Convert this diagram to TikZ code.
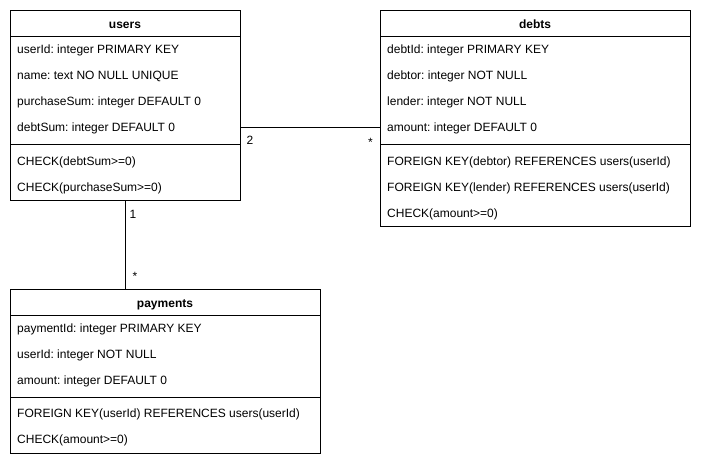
\documentclass[tikz,border=0pt]{standalone}
\usepackage{fontspec}
\setmainfont{Liberation Sans}
\begin{document}
\frenchspacing
\begin{tikzpicture}[x=1pt,y=-1pt,
  tbl/.style={draw,line width=1pt,rectangle,inner sep=0pt,anchor=north west},
  ttl/.style={font=\fontsize{12}{14}\selectfont\bfseries,anchor=base,inner sep=0pt},
  fld/.style={font=\fontsize{12}{14}\selectfont,anchor=base west,inner sep=0pt},
  mult/.style={font=\fontsize{12}{14}\selectfont,anchor=base,inner sep=0pt},
  sep/.style={line width=1pt}]
\useasboundingbox (0,0) rectangle (701,467);
% users
\node[tbl,minimum width=230pt,minimum height=190pt] (users) at (10,10) {};
\draw[sep] (10,36) -- (240,36);
\draw[sep] (10,144) -- (240,144);
\node[ttl] (usersT) at (125,28) {users};
\node[fld] (u1) at (17,53) {userId: integer PRIMARY KEY};
\node[fld] (u2) at (17,79) {name: text NO NULL UNIQUE};
\node[fld] (u3) at (17,105) {purchaseSum: integer DEFAULT 0};
\node[fld] (u4) at (17,131) {debtSum: integer DEFAULT 0};
\node[fld] (u5) at (17,165) {CHECK(debtSum>=0)};
\node[fld] (u6) at (17,191) {CHECK(purchaseSum>=0)};
% debts
\node[tbl,minimum width=310pt,minimum height=216pt] (debts) at (380,10) {};
\draw[sep] (380,36) -- (690,36);
\draw[sep] (380,144) -- (690,144);
\node[ttl] (debtsT) at (535,28) {debts};
\node[fld] (d1) at (387,53) {debtId: integer PRIMARY KEY};
\node[fld] (d2) at (387,79) {debtor: integer NOT NULL};
\node[fld] (d3) at (387,105) {lender: integer NOT NULL};
\node[fld] (d4) at (387,131) {amount: integer DEFAULT 0};
\node[fld] (d5) at (387,165) {FOREIGN KEY(debtor) REFERENCES users(userId)};
\node[fld] (d6) at (387,191) {FOREIGN KEY(lender) REFERENCES users(userId)};
\node[fld] (d7) at (387,217) {CHECK(amount>=0)};
% payments
\node[tbl,minimum width=310pt,minimum height=164pt] (payments) at (10,289) {};
\draw[sep] (10,315) -- (320,315);
\draw[sep] (10,397) -- (320,397);
\node[ttl] (paymentsT) at (165,307) {payments};
\node[fld] (p1) at (17,332) {paymentId: integer PRIMARY KEY};
\node[fld] (p2) at (17,358) {userId: integer NOT NULL};
\node[fld] (p3) at (17,384) {amount: integer DEFAULT 0};
\node[fld] (p4) at (17,417) {FOREIGN KEY(userId) REFERENCES users(userId)};
\node[fld] (p5) at (17,443) {CHECK(amount>=0)};
% connectors
\coordinate (c1) at (125,0);
\draw[line width=0.8pt] (users.east |- 0,127) -- (debts.west |- 0,127);
\draw[line width=0.8pt] (users.south -| c1) -- (payments.north -| c1);
\node[mult] (m1) at (250,144) {2};
\node[mult] (m2) at (370.5,146) {*};
\node[mult] (m3) at (133,218) {1};
\node[mult] (m4) at (135,280) {*};
\end{tikzpicture}
\end{document}
